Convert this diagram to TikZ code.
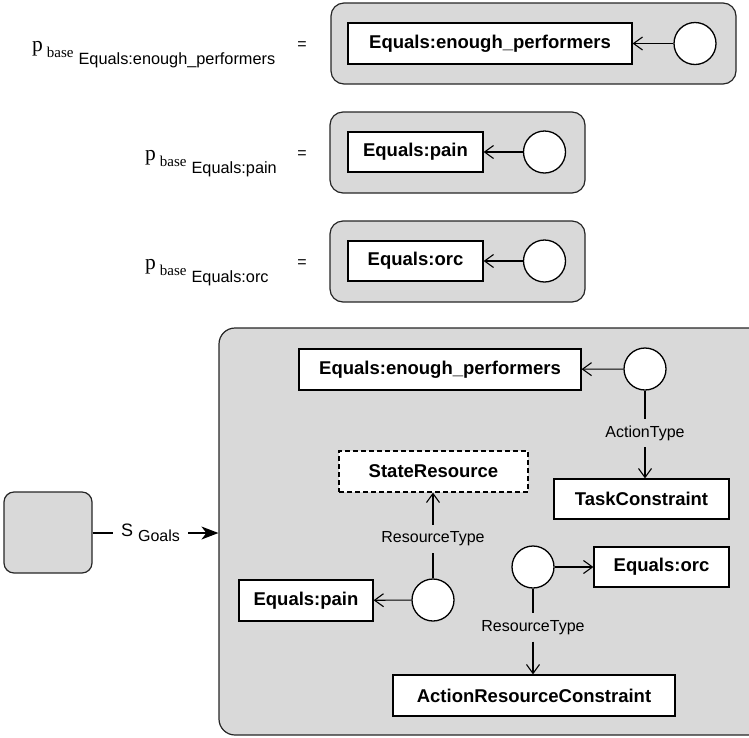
\documentclass[tikz,border=0pt]{standalone}
\usepackage{fontspec}
\setmainfont{Liberation Serif}
\setsansfont{Liberation Sans}
\usetikzlibrary{arrows.meta}
\definecolor{boxgray}{RGB}{217,217,217}
% p with nested subscripts: p_{base_{#1}}
\newcommand\pbaselabel[1]{{\fontsize{21.5}{21}\selectfont p}\hspace{4pt}%
  \raisebox{-6pt}{\fontsize{15}{15}\selectfont base}\hspace{5pt}%
  \raisebox{-13pt}{\sffamily\fontsize{16.3}{16}\selectfont #1}}

\begin{document}
\begin{tikzpicture}[x=1pt,y=-1pt,
  gbox/.style={draw=black!85, fill=boxgray, line width=1.2pt, rounded corners=13pt, inner sep=0},
  cls/.style={draw, fill=white, line width=1.2pt, inner sep=0, minimum height=41pt,
    font=\sffamily\bfseries\fontsize{18.5}{22}\selectfont},
  blank/.style={circle, draw, fill=white, line width=1.3pt, minimum size=42pt, inner sep=0},
  rel/.style={line width=1.1pt, -{Straight Barb[length=9pt,width=13pt]}},
  plain/.style={line width=1.1pt},
  elab/.style={inner sep=0, minimum height=28pt, font=\sffamily\fontsize{16}{19}\selectfont},
  eqs/.style={font=\sffamily\fontsize{16}{19}\selectfont, inner sep=0},
  plab/.style={anchor=base west, inner sep=0}
]
\useasboundingbox (0,0) rectangle (749,737);
\clip (0,0) rectangle (749,737);

% ---- base patterns ----
\node[plab] (p1) at (32,51) {\pbaselabel{Equals:enough\_performers}};
\node[eqs] (eq1) at (302,46) {=};
\node[gbox, minimum width=405pt, minimum height=81pt] (g1) at (533.5,43.5) {};
\node[cls, minimum width=284pt] (r1) at (490,43.5) {Equals:enough\_performers};
\node[blank] (c1) at (695,43.5) {};
\draw[rel] (c1) -- (r1);

\node[plab] (p2) at (145,160) {\pbaselabel{Equals:pain}};
\node[eqs] (eq2) at (302,155) {=};
\node[gbox, minimum width=255pt, minimum height=81pt] (g2) at (457.5,152.5) {};
\node[cls, minimum width=135pt, minimum height=40pt] (r2) at (415.5,152) {Equals:pain};
\node[blank] (c2) at (544.5,152) {};
\draw[rel] (c2) -- (r2);

\node[plab] (p3) at (145,269) {\pbaselabel{Equals:orc}};
\node[eqs] (eq3) at (302,264) {=};
\node[gbox, minimum width=255pt, minimum height=81pt] (g3) at (457.5,261.5) {};
\node[cls, minimum width=135pt, minimum height=40pt] (r3) at (415.5,261) {Equals:orc};
\node[blank] (c3) at (544.5,261) {};
\draw[rel] (c3) -- (r3);

% ---- goal state ----
\node[gbox, rounded corners=10pt, minimum width=88pt, minimum height=81pt] (src) at (48,532.5) {};
\node[gbox, rounded corners=16pt, minimum width=545pt, minimum height=407pt] (goals) at (491.5,531.5) {};
\node[elab, minimum width=75pt] (sg) at (150.5,533)
  {\raisebox{-2pt}{\fontsize{18}{19}\selectfont S}\hspace{5pt}\raisebox{-7pt}{\fontsize{16}{19}\selectfont Goals}};
\draw[plain] (src.east |- sg) -- (sg.west);
\draw[line width=1.1pt, -{Stealth[length=17pt,width=13pt,inset=5pt]}] (sg.east) -- (sg -| goals.west);

\node[cls, minimum width=282pt] (ep) at (440,369.5) {Equals:enough\_performers};
\node[blank] (c4) at (645,369) {};
\node[cls, minimum width=175pt, minimum height=40pt] (task) at (641.5,499) {TaskConstraint};
\node[elab] (at) at (645,433) {ActionType};
\draw[rel] (c4) -- (ep);
\draw[plain] (c4) -- (at);
\draw[rel] (at) -- (task.north -| at);

\node[cls, dash pattern=on 5pt off 3pt, minimum width=189pt] (sr) at (433.5,471.5) {StateResource};
\node[blank] (c5) at (433,600) {};
\node[cls, minimum width=134pt] (pain) at (306,600.5) {Equals:pain};
\node[elab] (rt1) at (433,539) {ResourceType};
\draw[rel] (c5) -- (pain);
\draw[plain] (c5) -- (rt1);
\draw[rel] (rt1) -- (sr.south -| rt1);

\node[blank] (c6) at (533,567) {};
\node[cls, minimum width=135pt, minimum height=40pt] (orc) at (661.5,567) {Equals:orc};
\node[cls, minimum width=282pt] (arc) at (534,695.5) {ActionResourceConstraint};
\node[elab] (rt2) at (533,627.5) {ResourceType};
\draw[rel] (c6) -- (orc);
\draw[plain] (c6) -- (rt2);
\draw[rel] (rt2) -- (arc.north -| rt2);
\end{tikzpicture}
\end{document}
